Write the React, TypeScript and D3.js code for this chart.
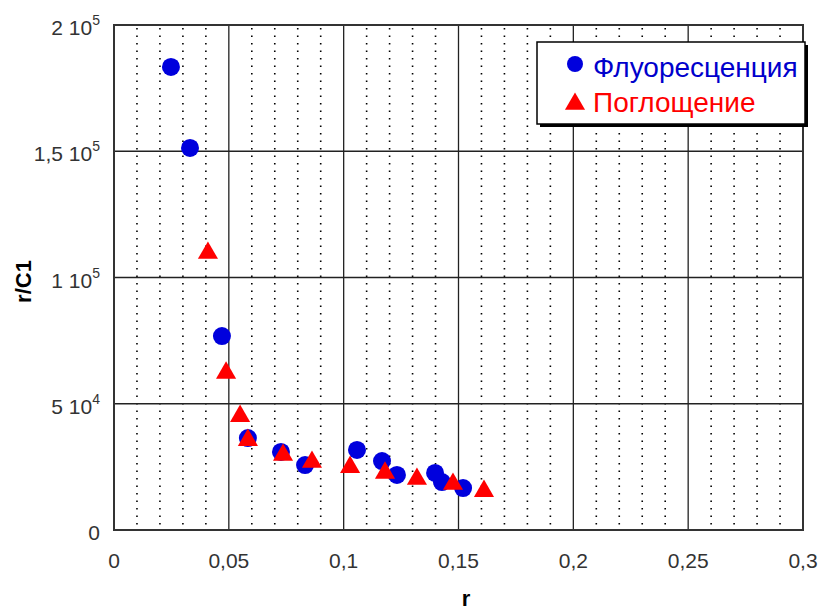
import React, { useEffect, useRef } from 'react';
import * as d3 from 'd3';

// Флуоресценция
const fluorR = [0.0248, 0.0331, 0.047, 0.0583, 0.0727, 0.0832, 0.1058, 0.1167, 0.1232, 0.1398, 0.1428, 0.152];
const fluorV = [183400, 151300, 76800, 36400, 30900, 25700, 31700, 27300, 21800, 22600, 19000, 16600];

// Поглощение
const absR = [0.0409, 0.0488, 0.0549, 0.0583, 0.0736, 0.0862, 0.1028, 0.118, 0.1319, 0.1476, 0.1611];
const absV = [110100, 62600, 45500, 36000, 30100, 27300, 25300, 23000, 20600, 18600, 15800];

const xTicks = [0, 0.05, 0.1, 0.15, 0.2, 0.25, 0.3];
const xTickLabels = ['0', '0,05', '0,1', '0,15', '0,2', '0,25', '0,3'];
const yTicks = [0, 50000, 100000, 150000, 200000];
const yTickLabels = [['0', ''], ['5 10', '4'], ['1 10', '5'], ['1,5 10', '5'], ['2 10', '5']];

const seriesNames = ['Флуоресценция', 'Поглощение'];
const seriesColors = ['#0000dd', '#ff0000'];

const App: React.FC = () => {
  const svgRef = useRef<SVGSVGElement>(null);

  useEffect(() => {
    if (!svgRef.current) return;
    const svg = d3.select(svgRef.current);
    svg.selectAll('*').remove();

    const width = 818;
    const height = 610;
    const margin = { top: 25, right: 15, bottom: 80, left: 114 };
    const font = '"Liberation Sans", Arial, sans-serif';

    const x = d3.scaleLinear().domain([0, 0.3]).range([margin.left, width - margin.right]);
    const y = d3.scaleLinear().domain([0, 200000]).range([height - margin.bottom, margin.top]);

    svg.append('rect').attr('width', width).attr('height', height).attr('fill', '#fff');

    // минорные пунктирные линии
    const minor = d3.range(1, 30).map(i => i / 100).filter(v => Math.round(v * 100) % 5 !== 0);
    svg.append('g').selectAll('line')
      .data(minor)
      .enter().append('line')
      .attr('x1', d => x(d)).attr('x2', d => x(d))
      .attr('y1', y(200000)).attr('y2', y(0))
      .attr('stroke', '#000')
      .attr('stroke-width', 1.6)
      .attr('stroke-dasharray', '1.5 6')
      .attr('stroke-dashoffset', -3);

    // основная сетка
    svg.append('g').selectAll('line')
      .data(xTicks.slice(1, -1))
      .enter().append('line')
      .attr('x1', d => x(d)).attr('x2', d => x(d))
      .attr('y1', y(200000)).attr('y2', y(0))
      .attr('stroke', '#222').attr('stroke-width', 1.3);

    svg.append('g').selectAll('line')
      .data(yTicks.slice(1, -1))
      .enter().append('line')
      .attr('x1', x(0)).attr('x2', x(0.3))
      .attr('y1', d => y(d)).attr('y2', d => y(d))
      .attr('stroke', '#222').attr('stroke-width', 1.3);

    svg.append('rect')
      .attr('x', x(0)).attr('y', y(200000))
      .attr('width', x(0.3) - x(0)).attr('height', y(0) - y(200000))
      .attr('fill', 'none').attr('stroke', '#333').attr('stroke-width', 2);

    // подписи осей
    svg.append('g').selectAll('text')
      .data(xTicks)
      .enter().append('text')
      .attr('x', d => x(d))
      .attr('y', y(0) + 38)
      .attr('text-anchor', 'middle')
      .attr('font-family', font)
      .attr('font-size', 21)
      .attr('fill', '#333')
      .text((_, i) => xTickLabels[i]);

    const yLabels = svg.append('g').selectAll('text')
      .data(yTicks)
      .enter().append('text')
      .attr('x', 100)
      .attr('y', d => y(d) + 10)
      .attr('text-anchor', 'end')
      .attr('font-family', font)
      .attr('font-size', 21)
      .attr('fill', '#333');
    yLabels.append('tspan').text((_, i) => yTickLabels[i][0]);
    yLabels.append('tspan')
      .attr('font-size', 14)
      .attr('dy', -10)
      .text((_, i) => yTickLabels[i][1]);

    svg.append('text')
      .attr('transform', `translate(31, ${(y(0) + y(200000)) / 2 + 4}) rotate(-90)`)
      .attr('text-anchor', 'middle')
      .attr('font-family', font)
      .attr('font-size', 22)
      .attr('font-weight', 'bold')
      .attr('fill', '#000')
      .text('r/C1');

    svg.append('text')
      .attr('x', 466)
      .attr('y', 606)
      .attr('text-anchor', 'middle')
      .attr('font-family', font)
      .attr('font-size', 22)
      .attr('font-weight', 'bold')
      .attr('fill', '#000')
      .text('r');

    // точки
    const tri = d3.symbol().type(d3.symbolTriangle).size(175);

    svg.append('g').selectAll('circle')
      .data(fluorR.map((r, i) => [r, fluorV[i]]))
      .enter().append('circle')
      .attr('cx', d => x(d[0]))
      .attr('cy', d => y(d[1]))
      .attr('r', 9)
      .attr('fill', seriesColors[0]);

    svg.append('g').selectAll('path')
      .data(absR.map((r, i) => [r, absV[i]]))
      .enter().append('path')
      .attr('d', tri)
      .attr('transform', d => `translate(${x(d[0])}, ${y(d[1]) + 1})`)
      .attr('fill', seriesColors[1]);

    // легенда
    const lg = svg.append('g').attr('transform', 'translate(537, 42)');
    lg.append('rect').attr('x', 3).attr('y', 3).attr('width', 268).attr('height', 82).attr('fill', '#000');
    lg.append('rect').attr('width', 268).attr('height', 82)
      .attr('fill', '#fff').attr('stroke', '#000').attr('stroke-width', 1.5);
    lg.append('circle').attr('cx', 38).attr('cy', 22).attr('r', 8).attr('fill', seriesColors[0]);
    lg.append('path').attr('d', tri).attr('transform', 'translate(38, 62)').attr('fill', seriesColors[1]);
    seriesNames.forEach((name, i) => {
      lg.append('text')
        .attr('x', 56)
        .attr('y', 35 + i * 35)
        .attr('font-family', font)
        .attr('font-size', 28)
        .attr('fill', i === 0 ? '#0000cc' : '#ff0000')
        .text(name);
    });
  }, []);

  return (
    <svg
      ref={svgRef}
      width={818}
      height={610}
      style={{ position: 'absolute', left: 0, top: 0 }}
    />
  );
};

export default App;
